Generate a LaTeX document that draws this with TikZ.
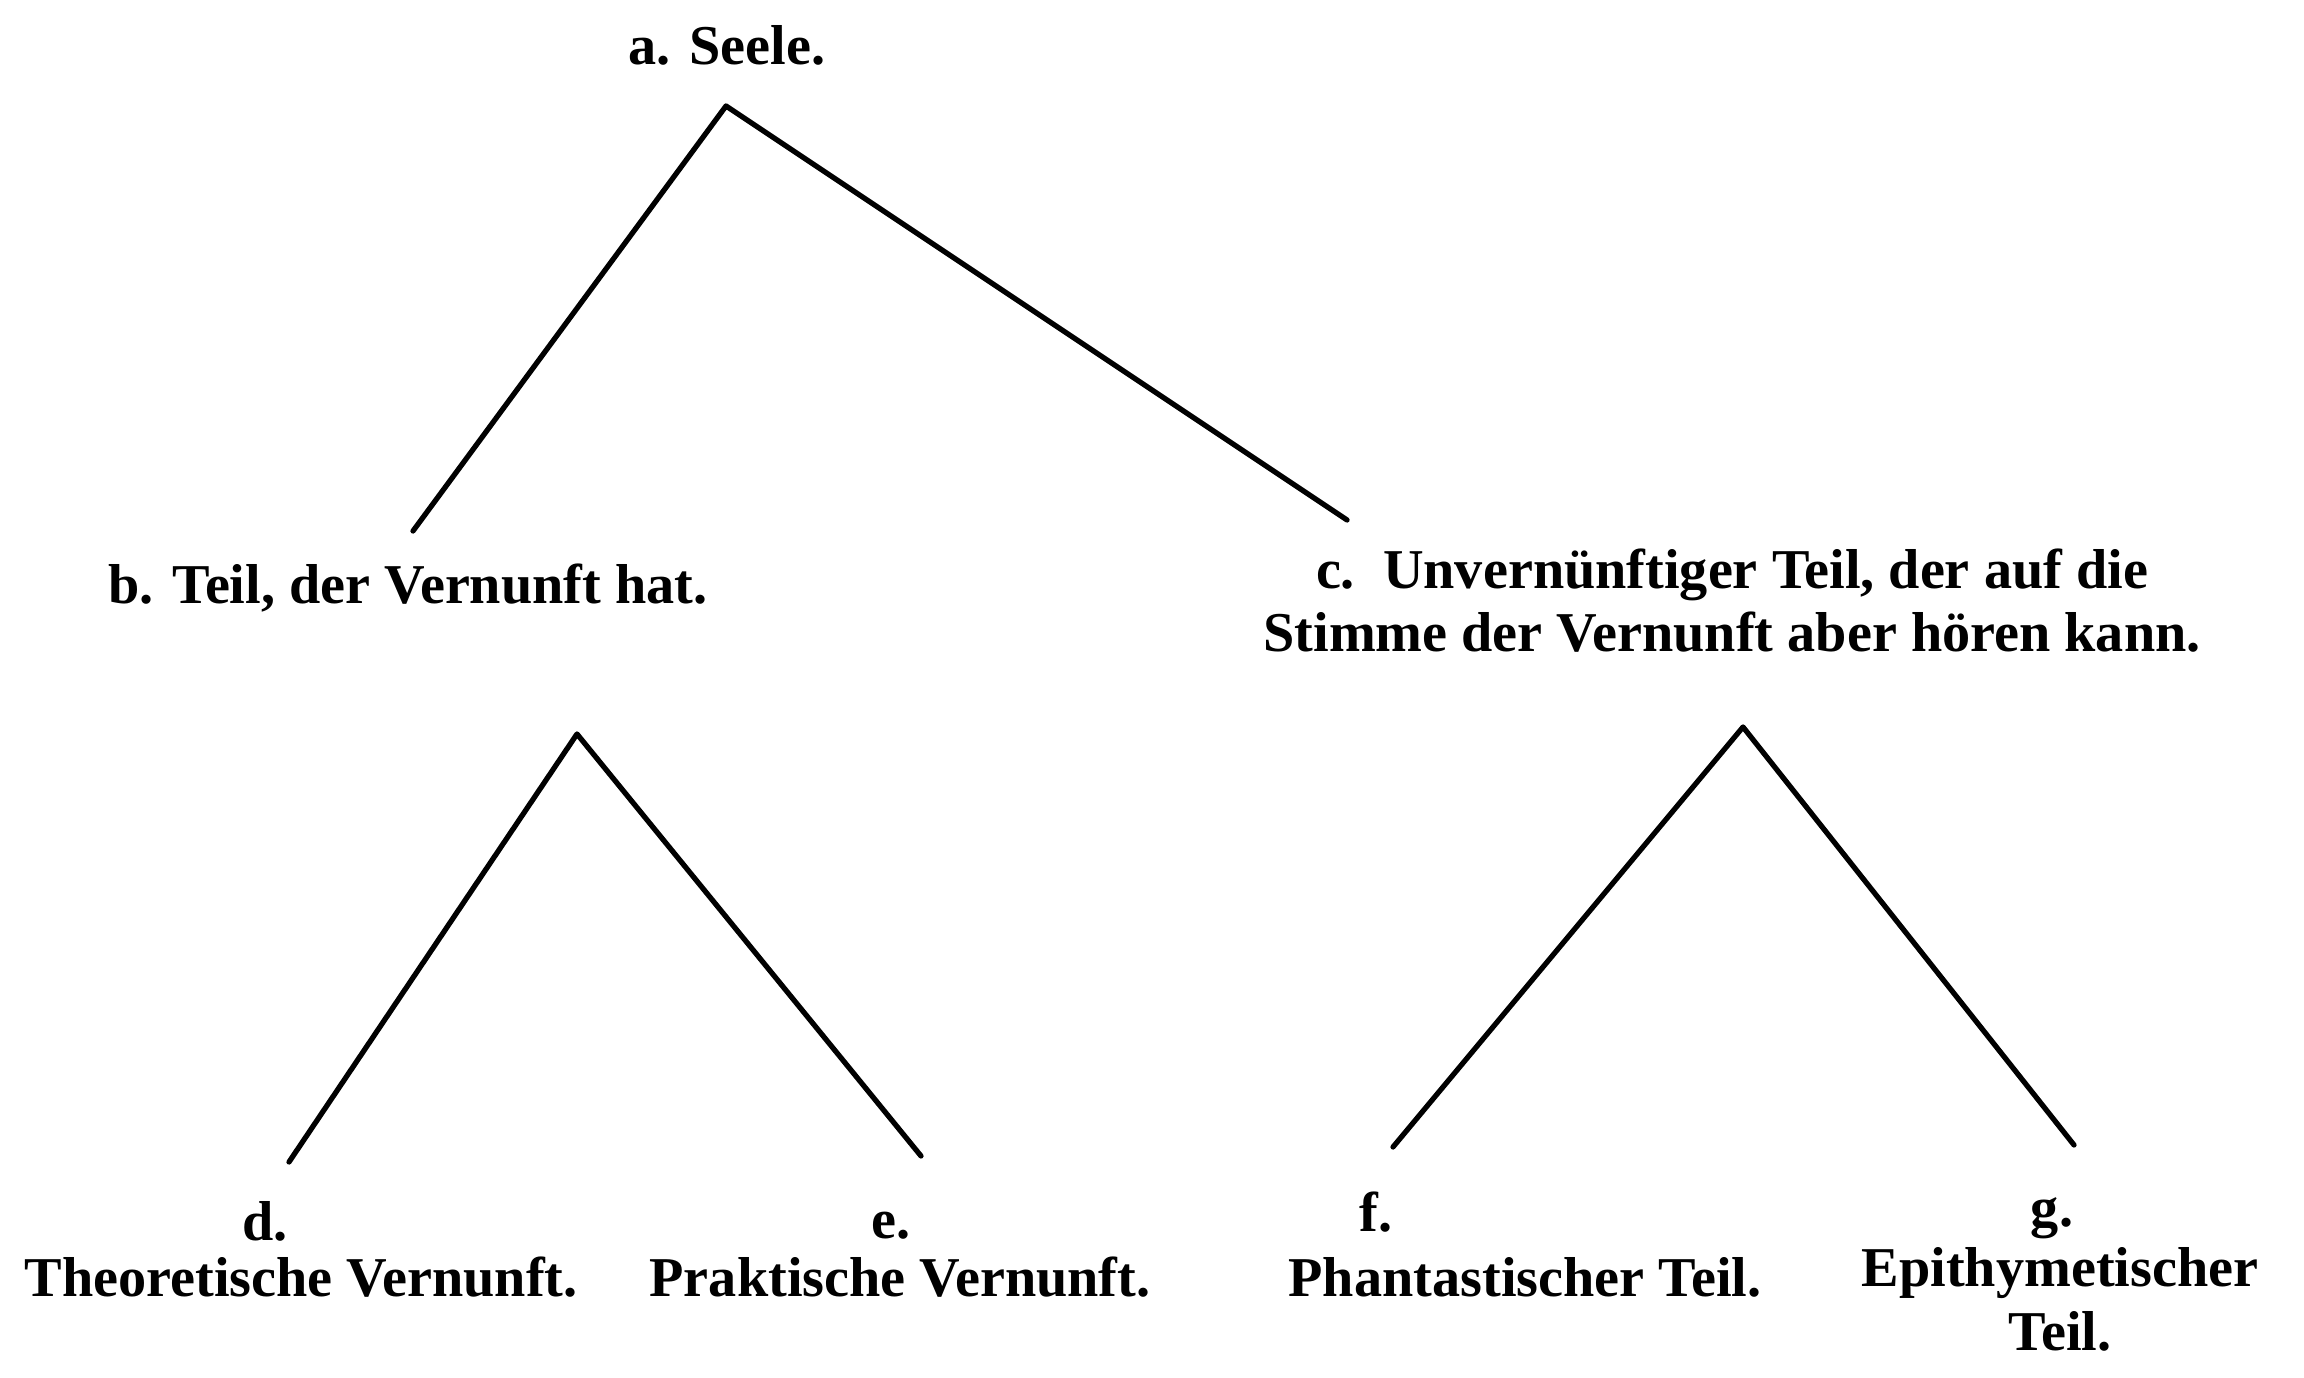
\documentclass[tikz,border=0pt]{standalone}
\usepackage{fontspec}
\setmainfont{Liberation Serif}
\usepackage{tikz}

\begin{document}
\begin{tikzpicture}[
  frak/.style={font=\bfseries\fontsize{16}{18}\selectfont, inner sep=0pt, anchor=base},
  ast/.style={line width=1.5pt, line cap=round, line join=round}]
\useasboundingbox (0,0) rectangle (23.04,-13.78);

% Seele und ihre zwei Teile
\node[frak] (seele) at (7.27,-0.65) {a. Seele.};
\node[frak] (teilb) at (4.08,-6.04) {b. Teil, der Vernunft hat.};
\node[frak, align=center] (teilc) at (17.32,-6.52) {c.\ \ Unvernünftiger Teil, der auf die\\Stimme der Vernunft aber hören kann.};

\coordinate (spitzeA) at (7.26,-1.06);
\coordinate (endeB) at (4.13,-5.31);
\coordinate (endeC) at (13.47,-5.20);
\draw[ast] (endeB) -- (spitzeA) -- (endeC);

% Teil b
\node[frak] (labd) at (2.65,-12.40) {d.};
\node[frak] (theo) at (3.01,-12.96) {Theoretische Vernunft.};
\node[frak] (labe) at (8.91,-12.38) {e.};
\node[frak] (prak) at (9.00,-12.96) {Praktische Vernunft.};

\coordinate (spitzeB) at (5.77,-7.34);
\coordinate (endeD) at (2.89,-11.62);
\coordinate (endeE) at (9.21,-11.56);
\draw[ast] (endeD) -- (spitzeB) -- (endeE);

% Teil c
\node[frak] (labf) at (13.76,-12.31) {f.};
\node[frak] (phan) at (15.25,-12.96) {Phantastischer Teil.};
\node[frak] (labg) at (20.52,-12.26) {g.};
\node[frak, align=center] (epit) at (20.60,-13.50) {Epithymetischer\\Teil.};

\coordinate (spitzeC) at (17.43,-7.27);
\coordinate (endeF) at (13.93,-11.47);
\coordinate (endeG) at (20.74,-11.45);
\draw[ast] (endeF) -- (spitzeC) -- (endeG);
\end{tikzpicture}
\end{document}
